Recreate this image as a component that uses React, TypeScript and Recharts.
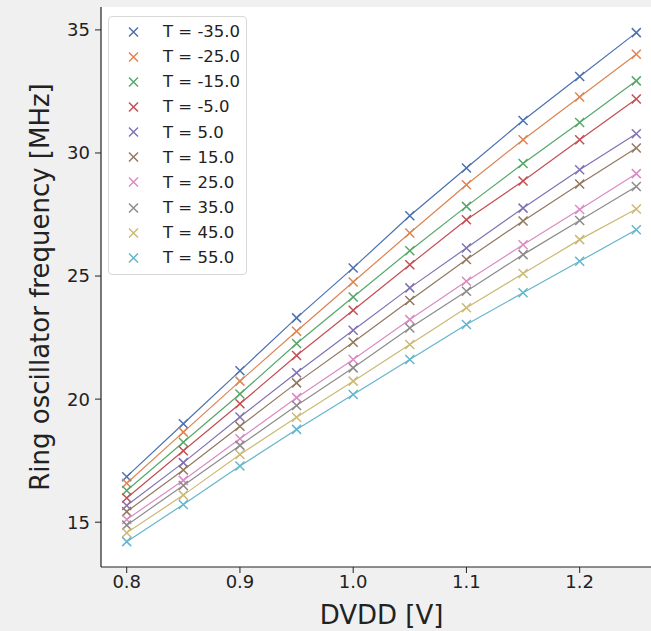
import React from "react";
import { LineChart, Line, XAxis, YAxis, CartesianGrid } from "recharts";

const dvdd = [0.8, 0.85, 0.9, 0.95, 1.0, 1.05, 1.1, 1.15, 1.2, 1.25];
const temperatures = ["-35.0", "-25.0", "-15.0", "-5.0", "5.0", "15.0", "25.0", "35.0", "45.0", "55.0"];
const tM35 = [16.85, 19.0, 21.15, 23.3, 25.33, 27.45, 29.39, 31.32, 33.11, 34.89];
const tM25 = [16.58, 18.66, 20.73, 22.76, 24.76, 26.75, 28.71, 30.54, 32.27, 34.01];
const tM15 = [16.29, 18.25, 20.21, 22.26, 24.15, 26.03, 27.83, 29.57, 31.24, 32.93];
const tM5 = [15.98, 17.9, 19.81, 21.77, 23.61, 25.46, 27.29, 28.86, 30.54, 32.19];
const tP5 = [15.68, 17.42, 19.27, 21.07, 22.8, 24.52, 26.14, 27.76, 29.32, 30.78];
const tP15 = [15.43, 17.12, 18.9, 20.66, 22.31, 24.01, 25.67, 27.24, 28.74, 30.2];
const tP25 = [15.11, 16.7, 18.39, 20.06, 21.61, 23.23, 24.79, 26.27, 27.7, 29.16];
const tP35 = [14.88, 16.49, 18.12, 19.74, 21.27, 22.89, 24.38, 25.87, 27.26, 28.64];
const tP45 = [14.57, 16.1, 17.75, 19.26, 20.73, 22.22, 23.71, 25.1, 26.48, 27.72];
const tP55 = [14.21, 15.72, 17.28, 18.77, 20.19, 21.61, 23.03, 24.32, 25.6, 26.88];
const seriesValues = [tM35, tM25, tM15, tM5, tP5, tP15, tP25, tP35, tP45, tP55];
const colors = ["#4c72b0", "#dd8452", "#55a868", "#c44e52", "#8172b3", "#937860", "#da8bc3", "#8c8c8c", "#ccb974", "#64b5cd"];
const xTicks = [0.8, 0.9, 1.0, 1.1, 1.2];
const yTicks = [15, 20, 25, 30, 35];

const data = dvdd.map((v, i) => {
  const row: any = { dvdd: v };
  seriesValues.forEach((s, k) => {
    row["s" + k] = s[i];
  });
  return row;
});

const FONT = "'DejaVu Sans', sans-serif";

const XDot = (color: string) => (props: any) => {
  const { cx, cy } = props;
  if (cx == null || cy == null) return null;
  const r = 4.5;
  return (
    <path
      d={`M${cx - r},${cy - r}L${cx + r},${cy + r}M${cx - r},${cy + r}L${cx + r},${cy - r}`}
      stroke={color}
      strokeWidth={1.5}
      fill="none"
    />
  );
};

const LegendBox = () => (
  <div
    style={{
      position: "absolute",
      left: 108,
      top: 16,
      width: 139,
      height: 259,
      boxSizing: "border-box",
      border: "1px solid #d8d8d8",
      borderRadius: 4,
      background: "rgba(255,255,255,0.8)",
      paddingTop: 2,
      fontFamily: FONT,
      fontSize: 16.5,
      color: "#222",
    }}
  >
    {temperatures.map((t, k) => (
      <div key={k} style={{ height: 25.15, display: "flex", alignItems: "center" }}>
        <svg width={54} height={20} style={{ flex: "none" }}>
          <path d="M20,5.5L29,14.5M20,14.5L29,5.5" stroke={colors[k]} strokeWidth={1.5} fill="none" />
        </svg>
        <span style={{ whiteSpace: "nowrap" }}>T = {t}</span>
      </div>
    ))}
  </div>
);

export default function App() {
  return (
    <div
      style={{
        position: "absolute",
        left: 0,
        top: 0,
        width: 651,
        height: 631,
        overflow: "hidden",
        background: "#f0f0f0",
      }}
    >
      <LineChart
        width={700}
        height={631}
        data={data}
        margin={{ top: 7, right: 38, left: 0, bottom: 0 }}
        style={{ fontFamily: FONT }}
      >
        <CartesianGrid fill="#ffffff" stroke="none" horizontal={false} vertical={false} />
        <XAxis
          dataKey="dvdd"
          type="number"
          domain={[0.7773, 1.2727]}
          ticks={xTicks}
          allowDataOverflow
          tickFormatter={(v: number) => v.toFixed(1)}
          height={64}
          axisLine={{ stroke: "#222", strokeWidth: 1.2 }}
          tickLine={{ stroke: "#222" }}
          tickSize={6}
          tick={{ fill: "#222", fontSize: 18, fontFamily: FONT }}
          label={{ value: "DVDD [V]", position: "insideBottom", offset: 7, fill: "#222", fontSize: 26, fontFamily: FONT }}
        />
        <XAxis
          xAxisId="top"
          orientation="top"
          dataKey="dvdd"
          type="number"
          domain={[0.7773, 1.2727]}
          height={0}
          tick={false}
          tickLine={false}
          axisLine={{ stroke: "#222", strokeWidth: 1.2 }}
        />
        <YAxis
          type="number"
          domain={[13.18, 35.93]}
          ticks={yTicks}
          allowDataOverflow
          width={101}
          axisLine={{ stroke: "#222", strokeWidth: 1.2 }}
          tickLine={{ stroke: "#222" }}
          tickSize={6}
          tickMargin={5}
          tick={{ fill: "#222", fontSize: 18, fontFamily: FONT }}
          label={{
            value: "Ring oscillator frequency [MHz]",
            angle: -90,
            position: "insideLeft",
            offset: 40,
            style: { textAnchor: "middle" },
            fill: "#222",
            fontSize: 26,
            fontFamily: FONT,
          }}
        />
        {seriesValues.map((_, k) => (
          <Line
            key={k}
            dataKey={"s" + k}
            name={"T = " + temperatures[k]}
            stroke={colors[k]}
            strokeWidth={1.2}
            type="linear"
            dot={XDot(colors[k])}
            activeDot={false}
            isAnimationActive={false}
          />
        ))}
      </LineChart>
      <LegendBox />
    </div>
  );
}
